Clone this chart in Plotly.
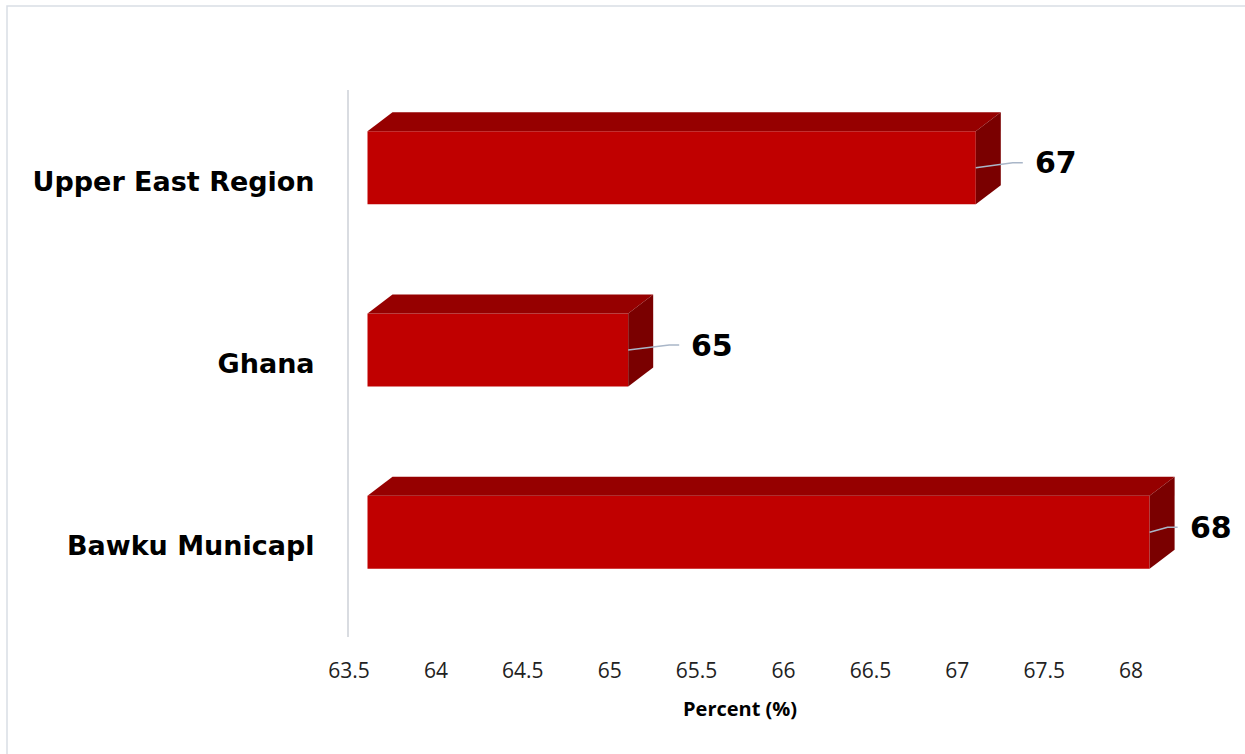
import plotly.graph_objects as go

# ---- data ----
categories = ["Bawku Municapl", "Ghana", "Upper East Region"]
values = [68, 65, 67]
x_ticks = [63.5, 64, 64.5, 65, 65.5, 66, 66.5, 67, 67.5, 68]
x_tick_labels = ["63.5", "64", "64.5", "65", "65.5", "66", "66.5", "67", "67.5", "68"]
axis_title = "Percent (%)"

# ---- layout geometry (pixels) ----
W, H = 1245, 754
L, R, T, B = 349, 5, 90, 117
pw, ph = W - L - R, H - T - B
x_min = 63.5
px_per_x = 173.8
x_max = x_min + pw / px_per_x
y_min, y_max = -0.5, 2.5
px_per_y = ph / (y_max - y_min)

def dxu(px):
    return px / px_per_x

def dyu(px):
    return px / px_per_y

d = dxu(18.5)        # front face shift to right
e = dyu(13.5)        # front face shift up
half = 0.2           # half bar thickness (y units)
bx, by = dxu(25), dyu(19)   # depth offsets
label_gap_px = [38, 61, 57]  # style: distance from bar front edge to label

FRONT = "#C00000"
TOP = "#960000"
SIDE = "#7A0000"
LEADER = "#A9B6C8"

fig = go.Figure()

ys = list(range(len(categories)))
# front faces
fig.add_trace(go.Bar(
    orientation="h",
    y=[y + e for y in ys],
    x=[v - x_min for v in values],
    base=[x_min + d] * len(values),
    width=0.4,
    marker=dict(color=FRONT, line=dict(width=0)),
    hoverinfo="skip",
    showlegend=False,
))

for i, (c, v) in enumerate(zip(ys, values)):
    x0 = x_min + d
    x1 = v + d
    yb = c + e - half
    yt = c + e + half
    # top face
    fig.add_trace(go.Scatter(
        x=[x0, x1, x1 + bx, x0 + bx, x0],
        y=[yt, yt, yt + by, yt + by, yt],
        fill="toself", fillcolor=TOP, mode="lines",
        line=dict(width=0, color=TOP), hoverinfo="skip", showlegend=False,
    ))
    # side face
    fig.add_trace(go.Scatter(
        x=[x1, x1, x1 + bx, x1 + bx, x1],
        y=[yb, yt, yt + by, yb + by, yb],
        fill="toself", fillcolor=SIDE, mode="lines",
        line=dict(width=0, color=SIDE), hoverinfo="skip", showlegend=False,
    ))
    # leader line and label
    gap = label_gap_px[i]
    yc = c + e
    yl = yc + dyu(5)
    fig.add_trace(go.Scatter(
        x=[x1, x1 + dxu(gap - 20), x1 + dxu(gap - 10)],
        y=[yc, yl, yl],
        mode="lines", line=dict(color=LEADER, width=1.5),
        hoverinfo="skip", showlegend=False,
    ))
    fig.add_annotation(
        x=x1 + dxu(gap), y=yl, xref="x", yref="y",
        text=str(v), showarrow=False, xanchor="left", yanchor="middle",
        font=dict(family="DejaVu Sans", size=30, color="black", weight="bold"),
    )

# axis title
fig.add_annotation(
    x=(740 - L) / pw, y=(H - B - 708) / ph, xref="paper", yref="paper",
    text="<b>" + axis_title + "</b>", showarrow=False,
    xanchor="center", yanchor="middle",
    font=dict(family="Open Sans", size=20, color="black"),
)

# outer chart border
fig.add_shape(
    type="rect", xref="paper", yref="paper",
    x0=(7 - L) / pw, x1=(W + 10 - L) / pw,
    y0=(H - B - (H + 10)) / ph, y1=(H - B - 6) / ph,
    line=dict(color="#D9DEE5", width=1.5), fillcolor="rgba(0,0,0,0)",
    layer="below",
)

fig.update_layout(
    width=W, height=H,
    margin=dict(l=L, r=R, t=T, b=B, autoexpand=False),
    paper_bgcolor="white", plot_bgcolor="white",
    showlegend=False,
    xaxis=dict(
        range=[x_min, x_max], tickvals=x_ticks, ticktext=x_tick_labels,
        showgrid=False, zeroline=False, showline=False,
        ticks="outside", ticklen=15, tickcolor="rgba(0,0,0,0)",
        tickfont=dict(family="Open Sans", size=21, color="#222222"),
        fixedrange=True,
    ),
    yaxis=dict(
        range=[y_min, y_max], tickvals=ys, ticktext=categories,
        showgrid=False, zeroline=False, showline=True,
        linecolor="#D9DCE1", linewidth=2,
        ticks="outside", ticklen=27, tickcolor="rgba(0,0,0,0)",
        tickfont=dict(family="DejaVu Sans", size=27, color="black", weight="bold"),
        fixedrange=True,
    ),
)

fig.write_html(
    "out.html",
    config={"displayModeBar": False, "staticPlot": True},
    post_script="document.body.style.margin='0';document.body.style.padding='0';",
)
